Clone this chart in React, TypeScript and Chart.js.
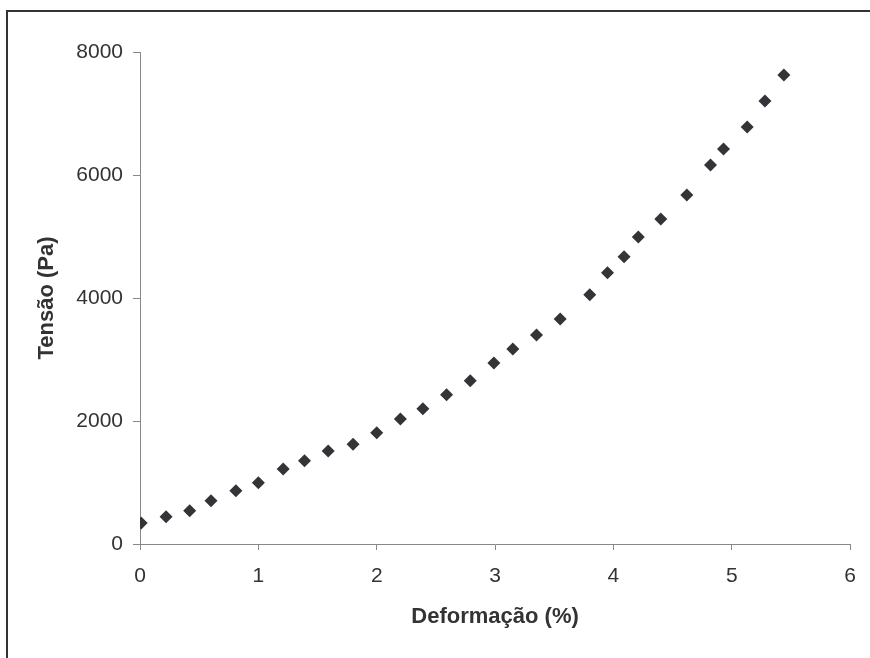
import React, { useEffect, useRef } from "react";
import { Chart, registerables } from "chart.js";

Chart.register(...registerables);

const strainPct: number[] = [0.01, 0.22, 0.42, 0.60, 0.81, 1.00, 1.21, 1.39, 1.59, 1.80, 2.00, 2.20, 2.39, 2.59, 2.79, 2.99, 3.15, 3.35, 3.55, 3.80, 3.95, 4.09, 4.21, 4.40, 4.62, 4.82, 4.93, 5.13, 5.28, 5.44];
const stressPa: number[] = [340, 444, 541, 704, 867, 997, 1220, 1355, 1512, 1621, 1810, 2033, 2200, 2428, 2656, 2943, 3171, 3398, 3659, 4054, 4411, 4671, 4992, 5285, 5675, 6163, 6423, 6780, 7203, 7626];

const xTitle = "Deformação (%)";
const yTitle = "Tensão (Pa)";
const xRange = { min: 0, max: 6, step: 1 };
const yRange = { min: 0, max: 8000, step: 2000 };

const FONT = "'Liberation Sans', Arial, Helvetica, sans-serif";

export default function App() {
  const ref = useRef<HTMLCanvasElement | null>(null);

  useEffect(() => {
    if (!ref.current) return;
    const points = strainPct.map((x, i) => ({ x, y: stressPa[i] }));
    const chart = new Chart(ref.current, {
      type: "scatter",
      data: {
        datasets: [
          {
            data: points,
            pointStyle: "rectRot",
            pointRadius: 6.5,
            pointHoverRadius: 6.5,
            backgroundColor: "#333338",
            borderColor: "#333338",
            borderWidth: 0,
          },
        ],
      },
      options: {
        responsive: false,
        animation: false,
        events: [],
        layout: { padding: { left: 0, top: 52, right: 18, bottom: 0 } },
        plugins: { legend: { display: false }, tooltip: { enabled: false } },
        scales: {
          x: {
            type: "linear",
            min: xRange.min,
            max: xRange.max,
            afterFit: (s: any) => {
              s.height = 114;
            },
            ticks: {
              stepSize: xRange.step,
              color: "#333333",
              padding: 14,
              font: { family: FONT, size: 21 },
              callback: (v: any) => String(v),
            },
            grid: { drawOnChartArea: false, drawTicks: true, tickLength: 6, color: "#888888" },
            border: { display: true, color: "#888888", width: 1 },
            title: {
              display: true,
              text: xTitle,
              color: "#333333",
              font: { family: FONT, size: 22, weight: "bold" },
              padding: { top: 0, bottom: 28 },
            },
          },
          y: {
            type: "linear",
            min: yRange.min,
            max: yRange.max,
            afterFit: (s: any) => {
              s.width = 140;
            },
            ticks: {
              stepSize: yRange.step,
              color: "#333333",
              padding: 10,
              font: { family: FONT, size: 21 },
              callback: (v: any) => String(v),
            },
            grid: { drawOnChartArea: false, drawTicks: true, tickLength: 7, color: "#888888" },
            border: { display: true, color: "#888888", width: 1 },
            title: {
              display: true,
              text: yTitle,
              color: "#333333",
              font: { family: FONT, size: 22, weight: "bold" },
              padding: { top: 34, bottom: 0 },
            },
          },
        },
      },
    });
    return () => chart.destroy();
  }, []);

  return (
    <div
      style={{
        position: "fixed",
        left: 0,
        top: 0,
        width: 870,
        height: 658,
        background: "#ffffff",
        overflow: "hidden",
      }}
    >
      <div
        style={{
          position: "absolute",
          left: 6,
          top: 10,
          width: 900,
          height: 700,
          borderLeft: "2px solid #333333",
          borderTop: "2px solid #333333",
          boxSizing: "border-box",
        }}
      />
      <canvas
        ref={ref}
        width={870}
        height={658}
        style={{ position: "absolute", left: 0, top: 0, width: 870, height: 658 }}
      />
    </div>
  );
}
